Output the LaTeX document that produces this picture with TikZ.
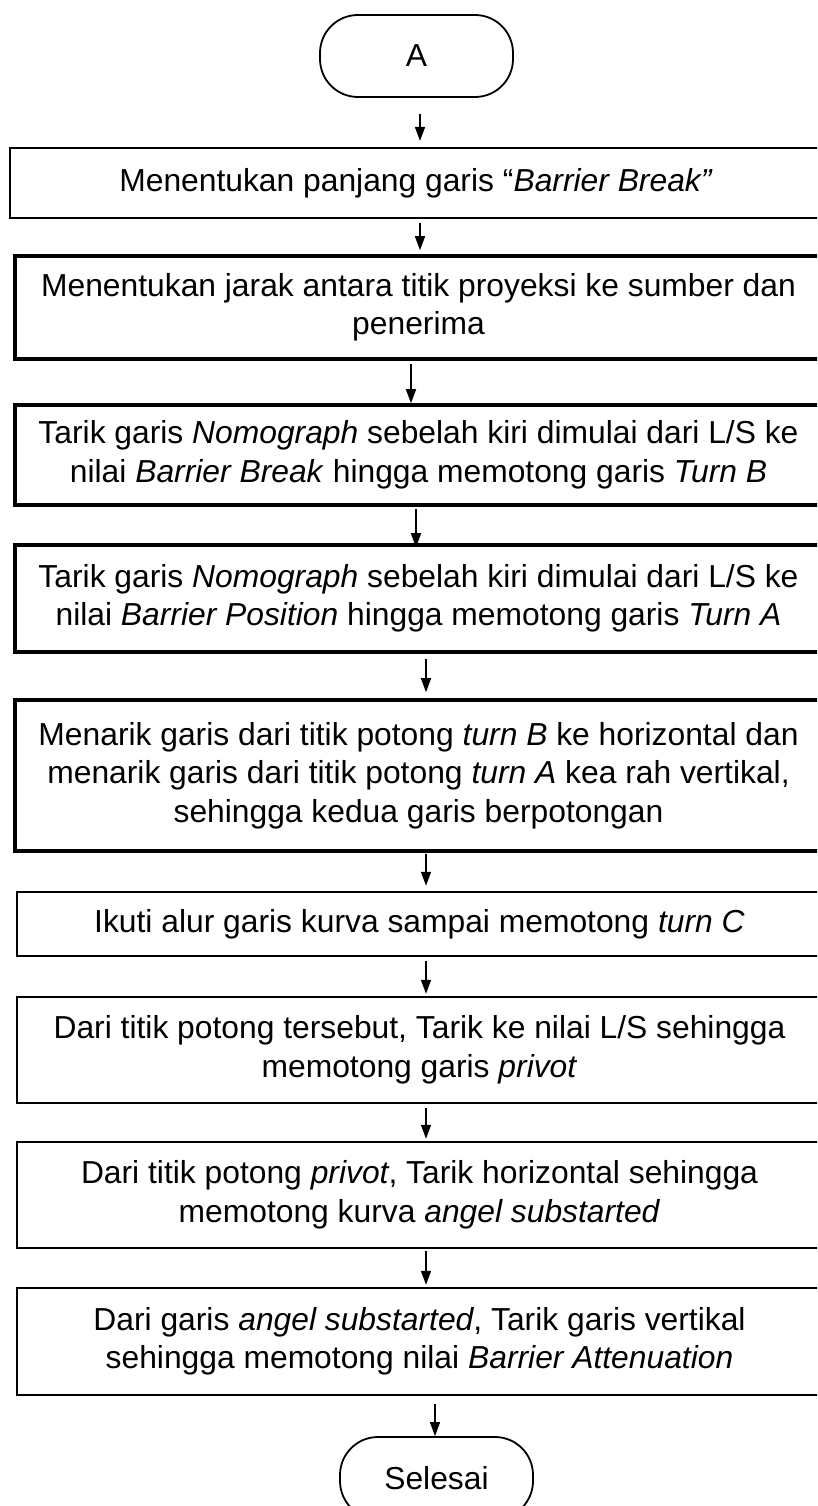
\documentclass[tikz,border=0pt]{standalone}
\usepackage{fontspec}
\setmainfont{Liberation Sans}
\usetikzlibrary{arrows.meta}
\begin{document}
\begin{tikzpicture}[x=1pt,y=-1pt,
  every node/.style={font=\fontsize{31.8}{38.5}\selectfont, align=center, inner sep=0pt},
  stepbox/.style={draw, minimum width=807pt},
  thinbox/.style={stepbox, line width=2.2pt},
  thickbox/.style={stepbox, line width=3.6pt},
  midbox/.style={stepbox, line width=2.5pt, minimum width=805pt},
  term/.style={draw, line width=1.8pt, rounded corners=38pt, minimum width=193pt, minimum height=82pt},
  arr/.style={line width=1.6pt, -{Triangle[length=14pt,width=10pt]}}]
\useasboundingbox (0,0) rectangle (817,1506);
\clip (0,0) rectangle (817,1506);

% start terminator
\node[term] (A) at (416.5,56) {A};

% process steps
\node[thinbox, minimum width=812pt, minimum height=70pt] (b1) at (416,183)
  {Menentukan panjang garis “\textit{Barrier Break”}};
\node[thickbox, minimum height=103pt] (b2) at (418.5,307.5)
  {Menentukan jarak antara titik proyeksi ke sumber dan\\penerima};
\node[thickbox, minimum height=100pt] (b3) at (418.5,455)
  {Tarik garis \textit{Nomograph} sebelah kiri dimulai dari L/S ke\\nilai \textit{Barrier Break} hingga memotong garis \textit{Turn B}};
\node[thickbox, minimum height=107pt] (b4) at (418.5,598.5)
  {Tarik garis \textit{Nomograph} sebelah kiri dimulai dari L/S ke\\nilai \textit{Barrier Position} hingga memotong garis \textit{Turn A}};
\node[thickbox, minimum height=151pt] (b5) at (418.5,775.5)
  {Menarik garis dari titik potong \textit{turn B} ke horizontal dan\\menarik garis dari titik potong \textit{turn A} kea rah vertikal,\\sehingga kedua garis berpotongan};
\node[midbox, minimum height=64pt] (b6) at (419.5,924)
  {Ikuti alur garis kurva sampai memotong \textit{turn C}};
\node[midbox, minimum height=106pt] (b7) at (419.5,1050)
  {Dari titik potong tersebut, Tarik ke nilai L/S sehingga\\memotong garis \textit{privot}};
\node[midbox, minimum height=106pt] (b8) at (419.5,1195)
  {Dari titik potong \textit{privot}, Tarik horizontal sehingga\\memotong kurva \textit{angel substarted}};
\node[midbox, minimum height=107pt] (b9) at (419.5,1341.5)
  {Dari garis \textit{angel substarted}, Tarik garis vertikal\\sehingga memotong nilai \textit{Barrier Attenuation}};

% end terminator
\node[term] (end) at (436.5,1478) {Selesai};

% flow arrows
\draw[arr, shorten <=16pt, shorten >=6pt] ([xshift=3.5pt]A.south) -- ([xshift=4pt]b1.north);
\draw[arr, shorten <=4pt, shorten >=4pt] ([xshift=4pt]b1.south) -- ([xshift=1.5pt]b2.north);
\draw[arr, shorten <=3pt] ([xshift=-7.5pt]b2.south) -- ([xshift=-7.5pt]b3.north);
\draw[arr, shorten <=2pt, shorten >=-4pt] ([xshift=-2.5pt]b3.south) -- ([xshift=-2.5pt]b4.north);
\draw[arr, shorten <=5pt, shorten >=6pt] ([xshift=7.5pt]b4.south) -- ([xshift=7.5pt]b5.north);
\draw[arr, shorten <=1pt, shorten >=5pt] ([xshift=7.5pt]b5.south) -- ([xshift=6.5pt]b6.north);
\draw[arr, shorten <=4pt, shorten >=2pt] ([xshift=6.5pt]b6.south) -- ([xshift=6.5pt]b7.north);
\draw[arr, shorten <=4pt, shorten >=2pt] ([xshift=6.5pt]b7.south) -- ([xshift=6.5pt]b8.north);
\draw[arr, shorten <=2pt, shorten >=2pt] ([xshift=6.5pt]b8.south) -- ([xshift=6.5pt]b9.north);
\draw[arr, shorten <=8pt] ([xshift=15.5pt]b9.south) -- ([xshift=-1.5pt]end.north);
\end{tikzpicture}
\end{document}
